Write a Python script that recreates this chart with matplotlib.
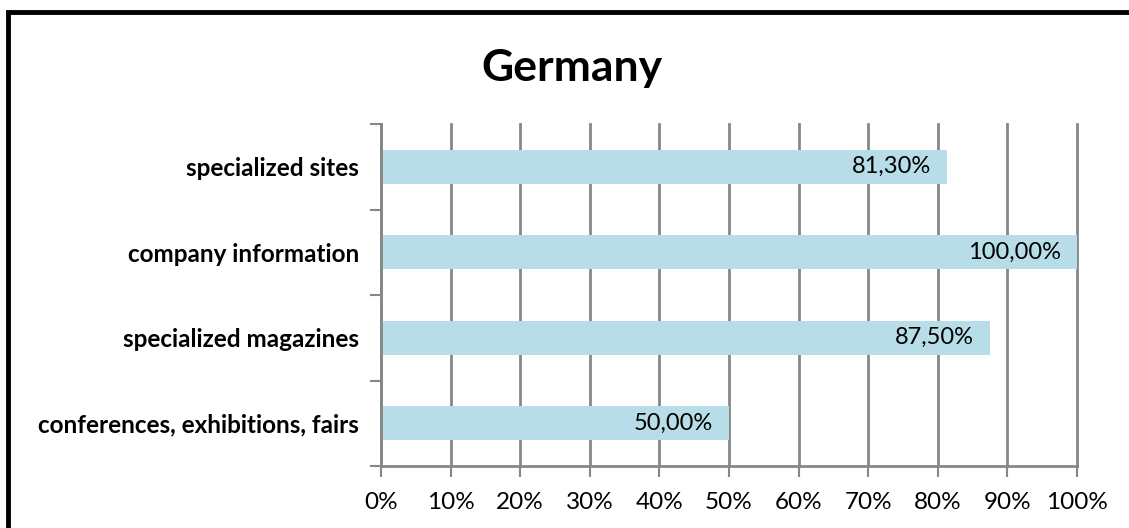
import matplotlib.pyplot as plt
from matplotlib.patches import Rectangle

# Share of respondents per information source (percent)
categories = ["conferences, exhibitions, fairs", "specialized magazines",
              "company information", "specialized sites"]
shares = [50.00, 87.50, 100.00, 81.30]
ticks = [0, 10, 20, 30, 40, 50, 60, 70, 80, 90, 100]
tick_labels = [f"{t}%" for t in ticks]

BAR_COLOR = "#B7DDE8"
GRID_COLOR = "#878787"

plt.rcParams["font.family"] = ["Lato", "DejaVu Sans"]

fig = plt.figure(figsize=(11.29, 5.28), dpi=100)
ax = fig.add_axes([381 / 1129, 1 - 466 / 528, (1077 - 381) / 1129, (466 - 124) / 528])

ypos = range(len(categories))
ax.barh(ypos, shares, height=0.4, color=BAR_COLOR, zorder=2)
for y, v in zip(ypos, shares):
    ax.text(v - 2.3, y, f"{v:.2f}%".replace(".", ","), ha="right", va="center",
            fontsize=17, color="black", zorder=3)

ax.set_xlim(0, 100)
ax.set_ylim(-0.5, len(categories) - 0.5)
ax.set_xticks(ticks)
ax.set_xticklabels(tick_labels, fontsize=17.5)
ax.set_yticks([y - 0.5 for y in range(len(categories) + 1)], minor=False)
ax.set_yticklabels([])
ax.set_yticks(list(ypos), minor=True)
ax.set_yticklabels(categories, minor=True, fontsize=17.5, fontweight="bold")
ax.tick_params(axis="y", which="minor", length=0, pad=16)
ax.tick_params(axis="y", which="major", length=8, width=1.5, color=GRID_COLOR)
ax.tick_params(axis="x", length=8, width=1.5, color=GRID_COLOR, pad=11)

ax.grid(axis="x", color=GRID_COLOR, linewidth=2, zorder=0)
for gl in ax.get_xgridlines():
    gl.set_clip_on(False)
ax.set_axisbelow(True)
for side in ("top", "right"):
    ax.spines[side].set_visible(False)
for side in ("left", "bottom"):
    ax.spines[side].set_color(GRID_COLOR)
    ax.spines[side].set_linewidth(2)

fig.text(572 / 1129, 1 - 68 / 528, "Germany", ha="center", va="center",
         fontsize=32, fontweight="bold")

# outer chart frame, running off the right and bottom edges
fig.patches.append(Rectangle((7.5 / 1129, -0.1), 1.2, 1 - 12 / 528 + 0.1,
                             transform=fig.transFigure, fill=False,
                             edgecolor="black", linewidth=3.5))

fig.savefig("out.png", dpi=100)
